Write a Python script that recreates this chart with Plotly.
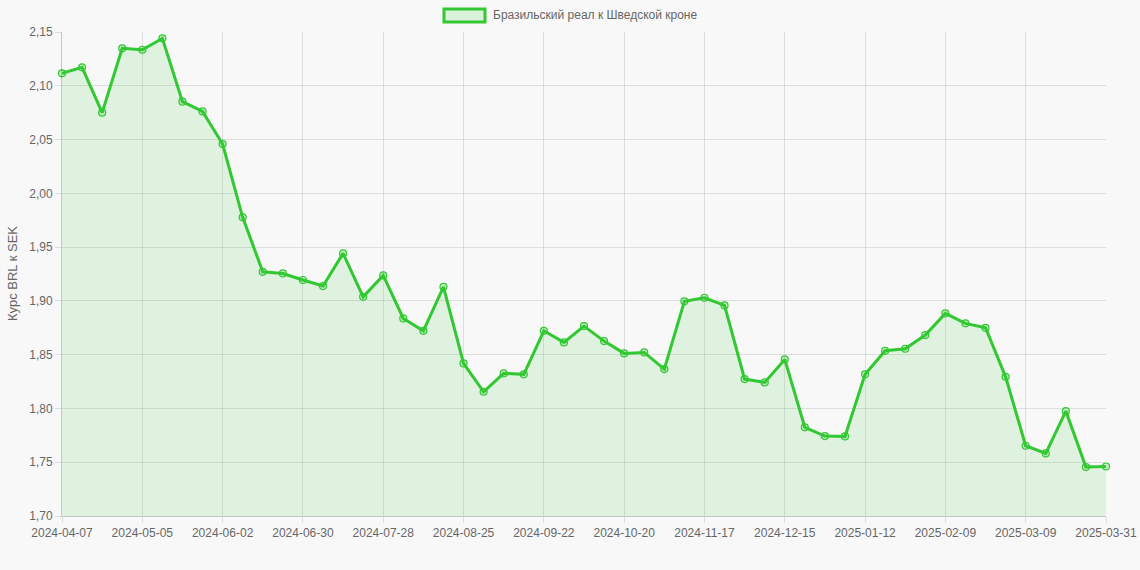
import datetime as dt
import plotly.graph_objects as go

# weekly dates, last point is 2025-03-31
start = dt.date(2024, 4, 7)
dates = [(start + dt.timedelta(weeks=i)).isoformat() for i in range(52)] + ["2025-03-31"]

rates = [
    2.1116, 2.1172, 2.0750, 2.1348, 2.1335, 2.1441, 2.0852, 2.0762, 2.0458, 1.9777,
    1.9270, 1.9255, 1.9194, 1.9138, 1.9442, 1.9038, 1.9237, 1.8837, 1.8722, 1.9131,
    1.8419, 1.8155, 1.8326, 1.8317, 1.8722, 1.8614, 1.8766, 1.8626, 1.8512, 1.8521,
    1.8366, 1.8996, 1.9029, 1.8958, 1.8273, 1.8242, 1.8456, 1.7824, 1.7743, 1.7740,
    1.8317, 1.8536, 1.8555, 1.8682, 1.8884, 1.8791, 1.8750, 1.8294, 1.7653, 1.7582,
    1.7975, 1.7455, 1.7460,
]

tick_labels = dates[::4] + [dates[-1]]
y_ticks = [1.70, 1.75, 1.80, 1.85, 1.90, 1.95, 2.00, 2.05, 2.10, 2.15]

series_name = "Бразильский реал к Шведской кроне"
y_title = "Курс BRL к SEK"
green = "rgb(50,200,50)"
bg = "#f8f8f8"

fig = go.Figure()
fig.add_trace(
    go.Scatter(
        x=dates,
        y=rates,
        name=series_name,
        mode="lines+markers",
        line=dict(color=green, width=3),
        marker=dict(size=7, color="rgba(50,200,50,0.25)", line=dict(color=green, width=1.2)),
        fill="tozeroy",
        fillcolor="rgba(50,200,50,0.12)",
        cliponaxis=False,
        showlegend=False,
    )
)

# chart.js style legend box drawn by hand
fig.add_shape(
    type="rect", xref="paper", yref="paper",
    x0=(444 - 62) / 1044, x1=(485 - 62) / 1044,
    y0=1 + (32 - 22) / 484, y1=1 + (32 - 9) / 484,
    line=dict(color=green, width=3), fillcolor="rgba(50,200,50,0.15)",
)
fig.add_annotation(
    xref="paper", yref="paper", x=(491 - 62) / 1044, y=1 + (32 - 15) / 484,
    text=series_name, showarrow=False, xanchor="left", yanchor="middle",
    font=dict(size=12, color="#666"),
)
# y axis title
fig.add_annotation(
    xref="paper", yref="paper", x=(12 - 62) / 1044, y=0.5,
    text=y_title, showarrow=False, textangle=-90,
    xanchor="center", yanchor="middle",
    font=dict(size=13, color="#666"),
)

fig.update_layout(
    width=1140,
    height=570,
    margin=dict(l=62, r=34, t=32, b=54),
    paper_bgcolor=bg,
    plot_bgcolor=bg,
    separators=", ",
    font=dict(family="Liberation Sans, Arial, sans-serif", size=12, color="#666"),
    showlegend=False,
)
fig.update_xaxes(
    type="category",
    range=[0, len(dates) - 1],
    tickmode="array",
    tickvals=tick_labels,
    ticktext=tick_labels,
    tickangle=0,
    automargin=False,
    showgrid=True,
    gridcolor="rgba(0,0,0,0.1)",
    ticks="outside",
    ticklen=6,
    tickcolor="rgba(0,0,0,0.1)",
    showline=True,
    linecolor="rgba(0,0,0,0.2)",
    zeroline=False,
)
fig.update_yaxes(
    range=[1.70, 2.15],
    tickmode="array",
    tickvals=y_ticks,
    tickformat=".2f",
    automargin=False,
    showgrid=True,
    gridcolor="rgba(0,0,0,0.1)",
    ticks="outside",
    ticklen=6,
    tickcolor="rgba(0,0,0,0.1)",
    showline=True,
    linecolor="rgba(0,0,0,0.2)",
    zeroline=False,
)

fig.write_html(
    "out.html",
    config={"displayModeBar": False},
    post_script="document.body.style.margin='0'; document.body.style.background='#f8f8f8';",
)
